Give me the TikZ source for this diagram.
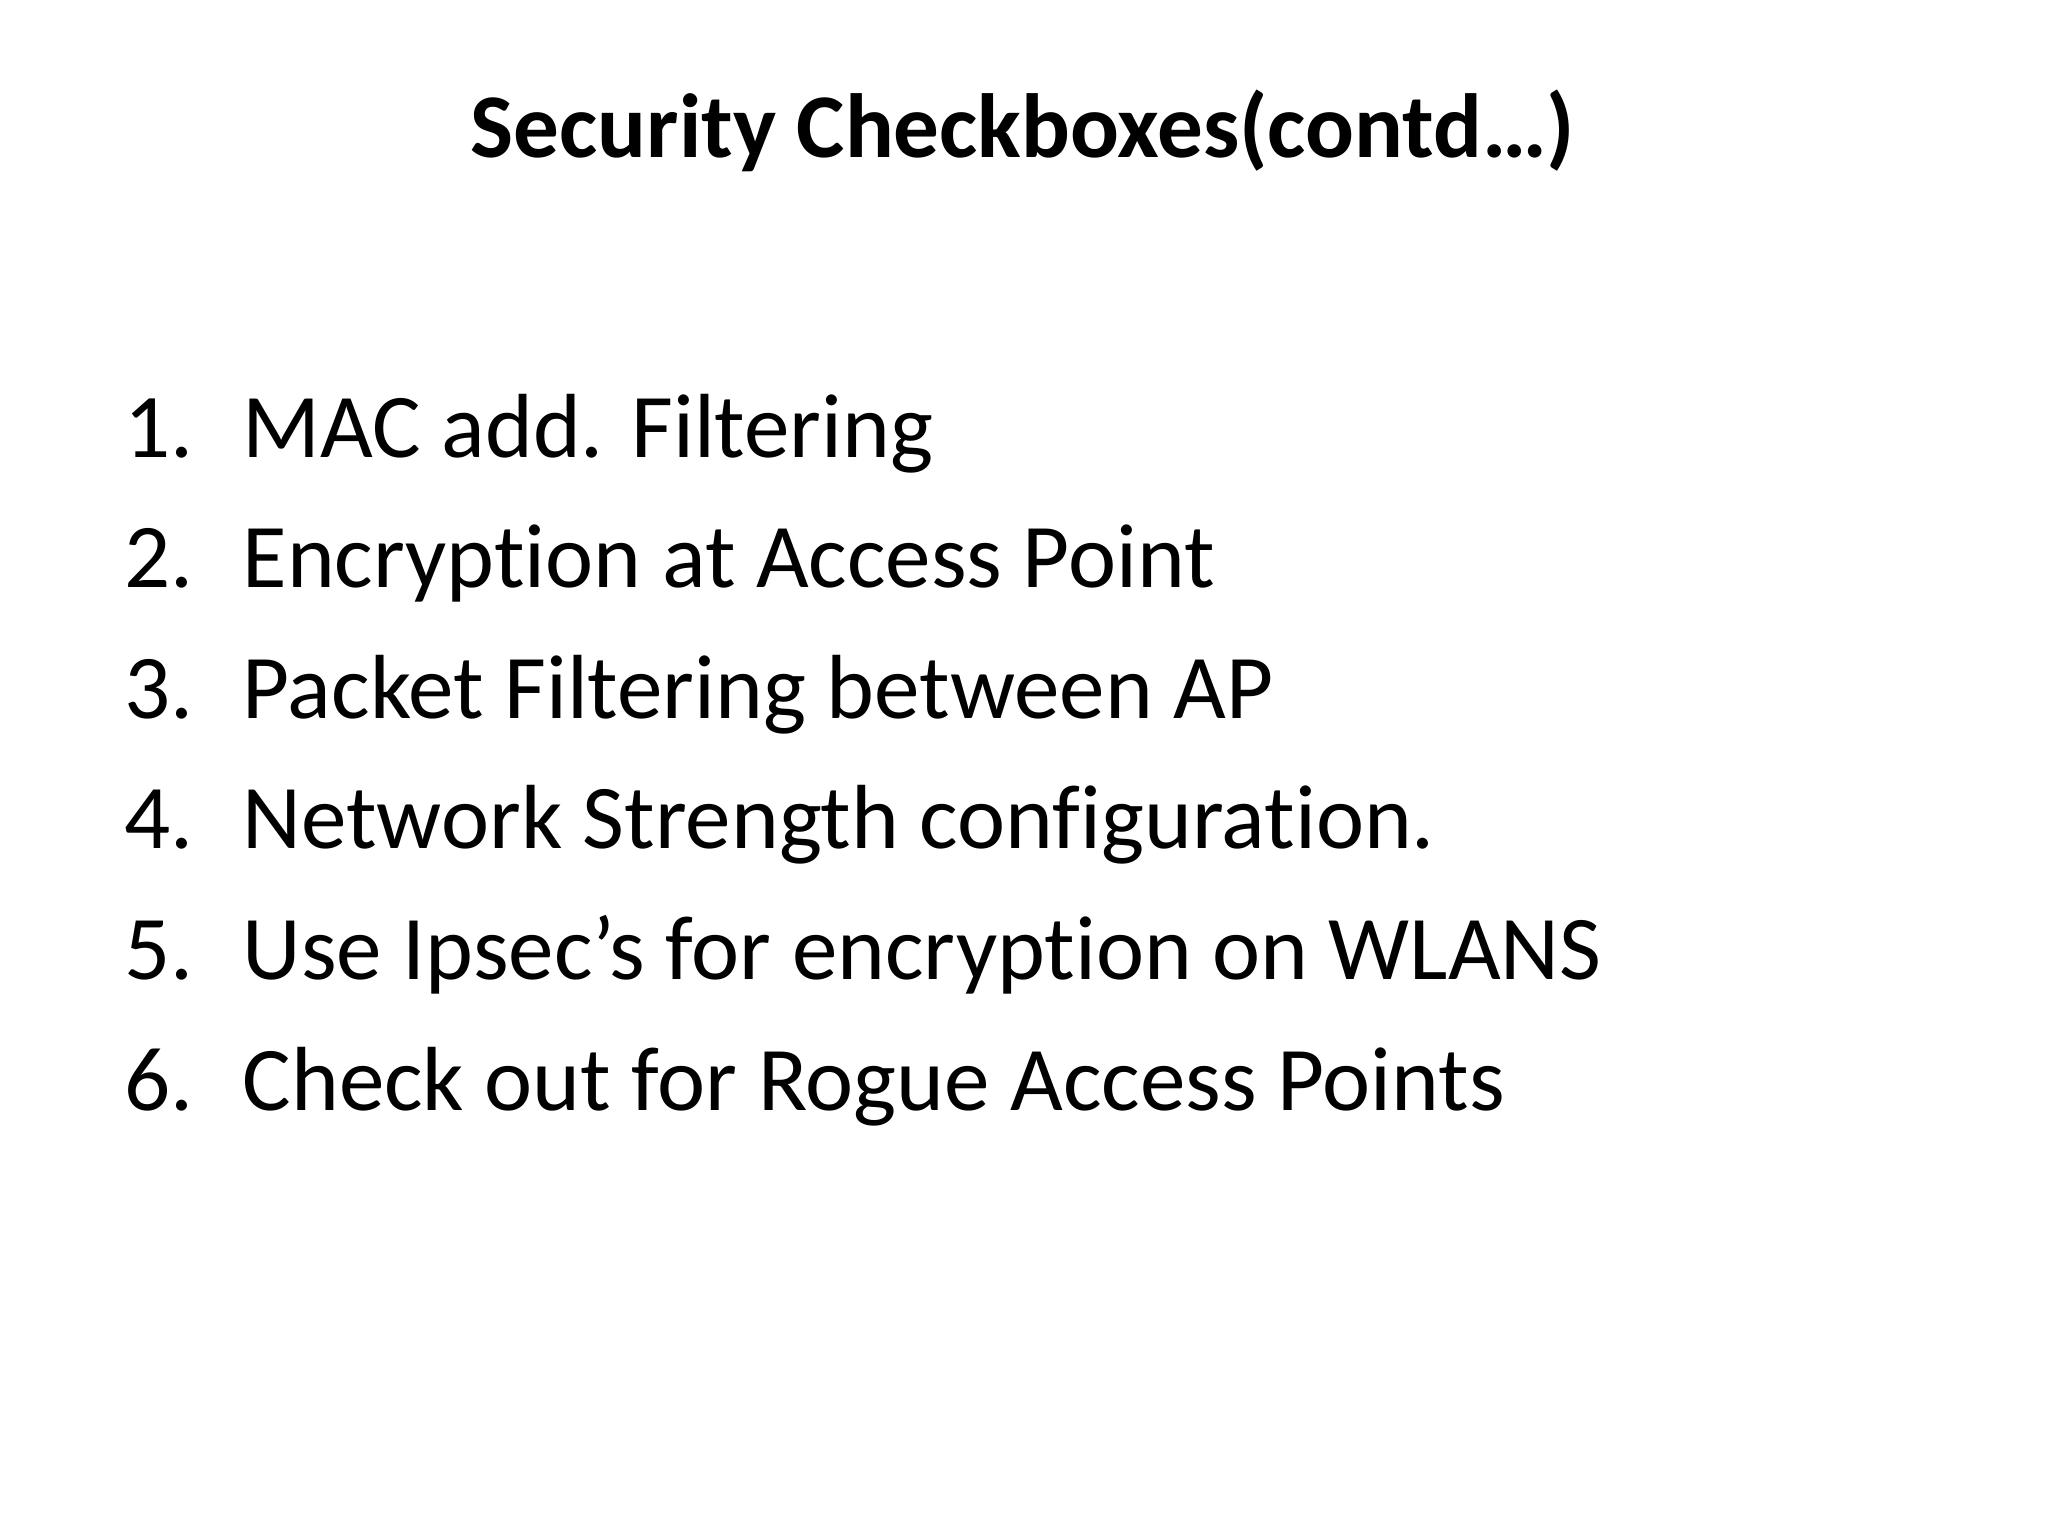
\documentclass[tikz,border=0pt]{standalone}
\usepackage{fontspec}
\setmainfont{Carlito}[Ligatures=NoCommon]
\begin{document}
\begin{tikzpicture}[x=0.01cm,y=-0.01cm,
  item/.style={anchor=base west,inner sep=0pt,font=\fontsize{25.9pt}{31pt}\selectfont}]
\useasboundingbox (0,0) rectangle (2048,1536);
\node[anchor=base,inner sep=0pt,font=\fontsize{25.9pt}{31pt}\selectfont\bfseries] (title) at (1023,157) {Security Checkboxes(contd…)};
\foreach \n/\t [count=\i] in {1/MAC add. Filtering,2/Encryption at Access Point,3/Packet Filtering between AP,4/Network Strength configuration.,5/Use Ipsec’s for encryption on WLANS,6/Check out for Rogue Access Points}{
  \node[item] (n\i) at (124,{457+130.6*(\i-1)}) {\n.};
  \node[item] (t\i) at (242,{457+130.6*(\i-1)}) {\t};
}
\end{tikzpicture}
\end{document}
